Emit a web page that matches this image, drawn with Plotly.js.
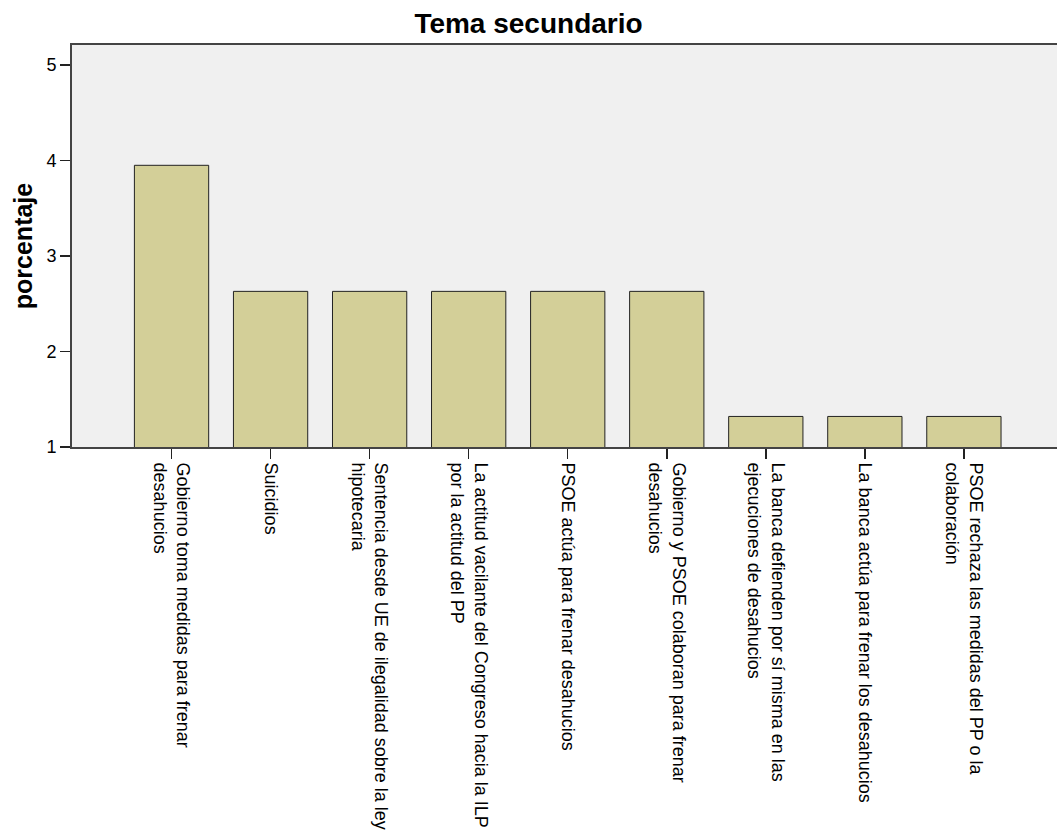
<!DOCTYPE html>
<html>
<head>
<meta charset="utf-8">
<script src="https://cdn.plot.ly/plotly-3.0.1.min.js"></script>
<style>html,body{margin:0;padding:0;background:#fff;overflow:hidden}</style>
</head>
<body>
<div id="chart" style="width:1057px;height:838px"></div>
<script>
const categories = [
  "Gobierno toma medidas para frenar<br>desahucios",
  "Suicidios",
  "Sentencia desde UE de ilegalidad sobre la ley<br>hipotecaria",
  "La actitud vacilante del Congreso hacia la ILP<br>por la actitud del PP",
  "PSOE actúa para frenar desahucios",
  "Gobierno y PSOE colaboran para frenar<br>desahucios",
  "La banca defienden por sí misma en las<br>ejecuciones de desahucios",
  "La banca actúa para frenar los desahucios",
  "PSOE rechaza las medidas del PP o la<br>colaboración"
];
const porcentaje = [3.95, 2.63, 2.63, 2.63, 2.63, 2.63, 1.32, 1.32, 1.32];
const yTicks = [1, 2, 3, 4, 5];

const font = "Liberation Sans, Arial, sans-serif";
const trace = {
  type: "bar",
  x: categories,
  y: porcentaje,
  width: 0.75,
  marker: {color: "#d3cf98", line: {color: "#222", width: 1}},
  hoverinfo: "x+y"
};
const layout = {
  width: 1057, height: 838,
  margin: {l: 72, r: 0, t: 45, b: 391},
  paper_bgcolor: "#ffffff",
  plot_bgcolor: "#f0f0f0",
  showlegend: false,
  title: {text: "<b>Tema secundario</b>", x: 0.5, xanchor: "center", y: 0.9726, yanchor: "middle",
          font: {family: font, size: 28, color: "#000"}},
  xaxis: {
    type: "category",
    range: [-1.005, 8.94],
    showline: true, mirror: true, linecolor: "#444", linewidth: 2,
    ticks: "outside", ticklen: 10, tickcolor: "#222", tickwidth: 1.5,
    tickangle: 90,
    tickfont: {family: font, size: 18, color: "#000"},
    showgrid: false, zeroline: false, automargin: false
  },
  yaxis: {
    range: [1, 5.21],
    tickvals: yTicks,
    showline: true, mirror: false, linecolor: "#444", linewidth: 2,
    ticks: "outside", ticklen: 10, tickcolor: "#222", tickwidth: 1.5,
    tickfont: {family: font, size: 18, color: "#000"},
    title: {text: "<b>porcentaje</b>", standoff: 7, font: {family: font, size: 25, color: "#000"}},
    showgrid: false, zeroline: false, automargin: false
  }
};
Plotly.newPlot("chart", [trace], layout, {displayModeBar: false, staticPlot: true});
</script>
</body>
</html>
